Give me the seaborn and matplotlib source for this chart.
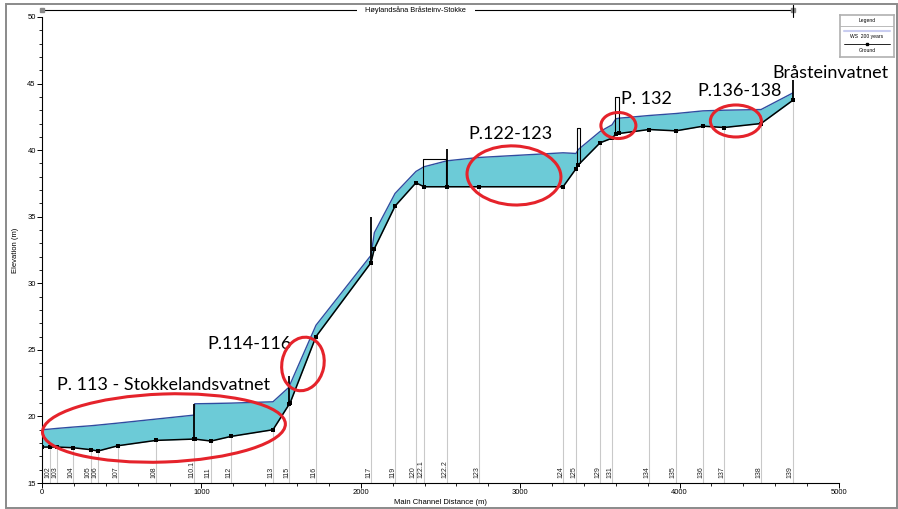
import numpy as np
import matplotlib
matplotlib.use("Agg")
import matplotlib.pyplot as plt
import matplotlib.transforms as mtransforms
from matplotlib.patches import Ellipse, Rectangle
import seaborn as sns

# profile along the main channel (m) - ground and 200 year water surface (m)
distance = [0, 50, 94, 195, 307, 351, 477, 715, 954, 958, 1060, 1186, 1449, 1550, 1556,
            1719, 2064, 2085, 2215, 2346, 2396, 2541, 2742, 3269, 3350, 3365, 3501, 3576,
            3600, 3620, 3808, 3977, 4147, 4279, 4511, 4711]
ground = [17.7, 17.7, 17.7, 17.65, 17.5, 17.4, 17.8, 18.2, 18.3, 18.3, 18.15, 18.5, 19.0, 20.9, 21.0,
          26.0, 31.55, 32.6, 35.8, 37.55, 37.25, 37.25, 37.25, 37.25, 38.6, 38.9, 40.55, 40.9,
          41.2, 41.25, 41.55, 41.45, 41.8, 41.7, 42.0, 43.75]
ws_200 = [19.0, 19.05, 19.1, 19.2, 19.3, 19.35, 19.5, 19.8, 20.1, 20.95, 20.97, 21.0, 21.1, 22.2, 22.4,
          26.85, 32.1, 33.8, 36.75, 38.4, 38.75, 39.2, 39.45, 39.8, 39.75, 40.05, 41.4, 41.9,
          42.35, 42.4, 42.6, 42.75, 42.95, 43.0, 43.05, 44.3]

# cross sections
xs_labels = ['102', '103', '104', '105', '106', '107', '108', '110.1', '111', '112', '113', '115',
             '116', '117', '119', '120', '122.1', '122.2', '123', '124', '125', '129', '131',
             '134', '135', '136', '137', '138', '139']
xs_dist = [50, 94, 195, 307, 351, 477, 715, 954, 1060, 1186, 1449, 1550, 1719, 2064, 2215, 2346,
           2396, 2541, 2742, 3269, 3350, 3501, 3576, 3808, 3977, 4147, 4279, 4511, 4711]

# inline structures: single walls (distance, top) and boxes (x0, x1, top)
wall_dist = [954, 1550, 2064, 2541, 4711]
wall_top = [20.95, 23.0, 35.0, 40.1, 45.3]
box_x0 = [2388, 3356, 3594]
box_x1 = [2535, 3378, 3620]
box_top = [39.3, 41.7, 44.0]

# highlighted reaches: label, text anchor, ellipse centre, size (px) and tilt
notes = ['P. 113 - Stokkelandsvatnet', 'P.114-116', 'P.122-123', 'P. 132', 'P.136-138', 'Bråsteinvatnet']
note_x = [94, 1035, 2672, 3632, 4109, 4579]
note_y = [22.0, 25.1, 40.85, 43.5, 44.1, 45.4]
ell_x = [765, 1637, 2961, 3616, 4353]
ell_y = [19.13, 23.94, 38.1, 41.85, 42.19]
ell_w = [243, 54, 94, 35, 51]
ell_h = [68, 42, 59, 26, 32]
ell_ang = [2, 78, -3, 0, 0]

reach_name = 'Høylandsåna Bråsteinv-Stokke'

sns.set_style("white")
plt.rcParams['font.family'] = ['Liberation Sans', 'DejaVu Sans']
plt.rcParams.update({'text.color': 'black', 'axes.labelcolor': 'black',
                     'xtick.color': 'black', 'ytick.color': 'black'})

fig = plt.figure(figsize=(8.98, 5.09), dpi=100)
ax = fig.add_axes([42 / 898, 1 - 483 / 509, (839 - 42) / 898, (483 - 17) / 509])

d = np.array(distance)
g = np.array(ground)
w = np.array(ws_200)

# station lines
xs_ground = np.interp(xs_dist, d, g)
ax.vlines(xs_dist, 15, xs_ground, color='#c9c9c9', lw=0.8, zorder=1)
for lab, x in zip(xs_labels, xs_dist):
    tr = mtransforms.offset_copy(ax.transData, fig=fig, x=-2.5, y=0, units='dots')
    ax.text(x, 15.38, lab, rotation=90, fontsize=5, ha='center', va='bottom',
            transform=tr, color='#222222')

ax.fill_between(d, g, w, color='#6ccbd7', lw=0, zorder=2)
sns.lineplot(x=d, y=w, ax=ax, color='#2f4da0', lw=1.0, sort=False, estimator=None, zorder=3)
sns.lineplot(x=d, y=g, ax=ax, color='black', lw=1.1, sort=False, estimator=None,
             marker='s', markersize=2.4, markeredgewidth=0, zorder=4)

# structures
ax.vlines(wall_dist, np.interp(wall_dist, d, g), wall_top, color='black', lw=1.3, zorder=5)
for x0, x1, top in zip(box_x0, box_x1, box_top):
    bot = np.interp(x0, d, g)
    ax.plot([x0, x0, x1, x1], [bot, top, top, np.interp(x1, d, g)], color='black', lw=0.8, zorder=5)

# reach line at top
top_y = 50.5
ax.plot([d.min(), d.max()], [top_y, top_y], color='black', lw=0.8, clip_on=False)
ax.plot([d.min(), d.max()], [top_y, top_y], ls='none', marker='s', markersize=3,
        color='#888888', clip_on=False)
ax.plot([d.max(), d.max()], [top_y - 0.5, top_y + 0.45], color='black', lw=0.8, clip_on=False)
ax.text((d.min() + d.max()) / 2 - 10, top_y, reach_name, fontsize=5.3, ha='center', va='center',
        bbox=dict(facecolor='white', edgecolor='none', pad=6))

# annotations
for txt, x, y in zip(notes, note_x, note_y):
    ax.text(x, y, txt, fontsize=13, family=['Lato', 'DejaVu Sans'], ha='left', va='baseline',
            zorder=7)
for x, y, ew, eh, a in zip(ell_x, ell_y, ell_w, ell_h, ell_ang):
    tr = fig.dpi_scale_trans + mtransforms.ScaledTranslation(x, y, ax.transData)
    ax.add_patch(Ellipse((0, 0), ew / 100, eh / 100, angle=a, transform=tr, fill=False,
                         edgecolor='#e5232b', lw=2.2, zorder=8, clip_on=False))

ax.set_xlim(0, 5000)
ax.set_ylim(15, 50)
ax.set_xticks(np.arange(0, 5001, 1000))
ax.set_xticks(np.arange(0, 5001, 200), minor=True)
ax.set_yticks(np.arange(15, 51, 5))
ax.set_yticks(np.arange(15, 51, 1), minor=True)
ax.tick_params(axis='both', which='major', labelsize=5.5, length=3.5, width=0.7, direction='out', pad=1)
ax.tick_params(axis='both', which='minor', length=2, width=0.6, direction='out')
ax.tick_params(left=True, bottom=True, which='both')
for s in ['top', 'right']:
    ax.spines[s].set_visible(False)
for s in ['left', 'bottom']:
    ax.spines[s].set_color('black')
    ax.spines[s].set_linewidth(0.8)
ax.set_xlabel('Main Channel Distance (m)', fontsize=5.5, labelpad=2)
ax.set_ylabel('Elevation (m)', fontsize=5.5, labelpad=6)

# legend box
lax = fig.add_axes([840 / 898, 1 - 57 / 509, 54 / 898, 42 / 509])
lax.set_xlim(0, 1)
lax.set_ylim(1, 0)
lax.set_xticks([])
lax.set_yticks([])
for s in lax.spines.values():
    s.set_color('#b0b0b0')
    s.set_linewidth(1.2)
lax.text(0.5, 0.13, 'Legend', fontsize=3.6, ha='center', va='center')
lax.axhline(0.26, color='#b0b0b0', lw=0.6)
lax.plot([0.08, 0.92], [0.37, 0.37], color='#c9cdf0', lw=1.5)
lax.text(0.5, 0.52, 'WS  200 years', fontsize=3.6, ha='center', va='center')
lax.plot([0.08, 0.92], [0.7, 0.7], color='black', lw=0.6)
lax.plot([0.5], [0.7], marker='s', color='black', markersize=1.8)
lax.text(0.5, 0.85, 'Ground', fontsize=3.6, ha='center', va='center')

# outer frame
fig.patches.append(Rectangle((5.5 / 898, 1.5 / 509), 891 / 898, 503.5 / 509, transform=fig.transFigure,
                             fill=False, edgecolor='#8a8a8a', lw=1.4))

fig.savefig('out.png', dpi=100)
